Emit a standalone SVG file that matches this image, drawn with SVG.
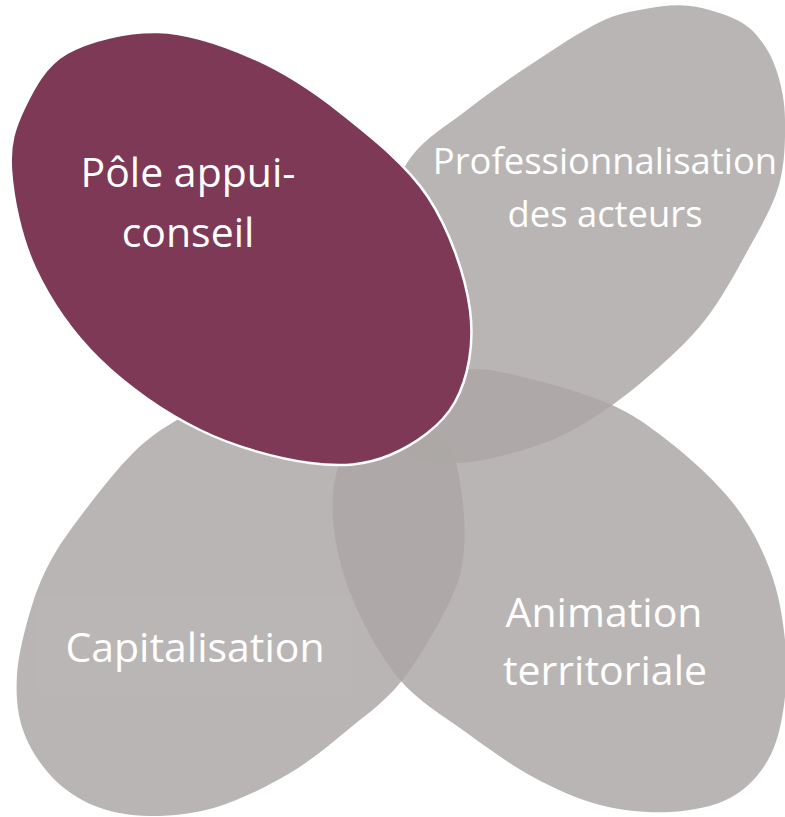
<svg xmlns="http://www.w3.org/2000/svg" width="785" height="817" viewBox="0 0 785 817">
<style>
.petal{fill:#ACA7A6;fill-opacity:0.843;stroke:none}
.lbl{font-family:"Open Sans","Noto Sans","Liberation Sans",sans-serif;fill:#FFFFFF;text-anchor:middle}
.big{font-size:41px}
.small{font-size:36.4px}
</style>
<rect width="785" height="817" fill="#FFFFFF"/>
<g id="node-professionnalisation">
<path class="petal" d="M690,6 C705.3,7.8 725,14 737,20 C749,26 755.2,32.8 762,42 C768.8,51.2 774.2,62 778,75 C781.8,88 784.8,101.7 785,120 C785.2,138.3 785.2,163.3 779,185 C772.8,206.7 760.3,227.5 748,250 C735.7,272.5 721.3,299.2 705,320 C688.7,340.8 669.2,358.3 650,375 C630.8,391.7 609.5,408 590,420 C570.5,432 555.2,439.8 533,447 C510.8,454.2 479.2,462.5 457,463 C434.8,463.5 415.3,463 400,450 C384.7,437 370,416.7 365,385 C360,353.3 363,297 370,260 C377,223 390.8,188 407,163 C423.2,138 446,126.7 467,110 C488,93.3 510.8,77.7 533,63 C555.2,48.3 581.3,31 600,22 C618.7,13 630,11.7 645,9 C660,6.3 674.7,4.2 690,6 Z"/>
<text class="lbl small" x="605" y="174">Professionnalisation</text>
<text class="lbl small" x="605" y="227">des acteurs</text>
</g>
<g id="node-animation">
<path class="petal" d="M490,370 C516.7,374.2 570.5,388.3 600,400 C629.5,411.7 644.8,422.8 667,440 C689.2,457.2 715.8,481.3 733,503 C750.2,524.7 761.3,547.2 770,570 C778.7,592.8 782.7,617.5 785,640 C787.3,662.5 786.8,685 784,705 C781.2,725 777,744.5 768,760 C759,775.5 746.3,789.3 730,798 C713.7,806.7 691.7,810.8 670,812 C648.3,813.2 622.8,810.8 600,805 C577.2,799.2 555.2,789 533,777 C510.8,765 489.2,749.2 467,733 C444.8,716.8 419,702.2 400,680 C381,657.8 364.2,626.7 353,600 C341.8,573.3 334.7,544.2 333,520 C331.3,495.8 333.5,475.7 343,455 C352.5,434.3 373.8,409.3 390,396 C406.2,382.7 423.3,379.3 440,375 C456.7,370.7 466,368 490,370 Z"/>
<text class="lbl big" x="604" y="627">Animation</text>
<text class="lbl big" x="605" y="685">territoriale</text>
</g>
<g id="node-capitalisation">
<path class="petal" d="M300,378 C327.5,380.2 375.3,393.8 400,405 C424.7,416.2 437.5,428.3 448,445 C458.5,461.7 460.7,485 463,505 C465.3,525 465.3,546.7 462,565 C458.7,583.3 453.3,595.3 443,615 C432.7,634.7 415.5,664.2 400,683 C384.5,701.8 368.3,713 350,728 C331.7,743 312.2,759.8 290,773 C267.8,786.2 240.3,799.8 217,807 C193.7,814.2 170.3,816.2 150,816 C129.7,815.8 111.3,812.5 95,806 C78.7,799.5 64,789.7 52,777 C40,764.3 28.8,747 23,730 C17.2,713 15.8,694.7 17,675 C18.2,655.3 24.5,630.8 30,612 C35.5,593.2 41.2,578.5 50,562 C58.8,545.5 69.2,531.2 83,513 C96.8,494.8 117.3,468.5 133,453 C148.7,437.5 160,430.2 177,420 C194,409.8 214.5,399 235,392 C255.5,385 272.5,375.8 300,378 Z"/>
<rect x="38" y="595" width="314" height="100" fill="#BAB6B5"/>
<text class="lbl big" x="195" y="662">Capitalisation</text>
</g>
<g id="node-pole-appui-conseil">
<path fill="#7E3957" stroke="#FFFFFF" stroke-width="2.5" d="M158,32 C189,32.8 222.7,44.7 253,58 C283.3,71.3 310.8,88.8 340,112 C369.2,135.2 406.3,164 428,197 C449.7,230 465.5,275.8 470,310 C474.5,344.2 468.3,377.8 455,402 C441.7,426.2 414.2,444.8 390,455 C365.8,465.2 341.7,467.2 310,463 C278.3,458.8 235,447.2 200,430 C165,412.8 127.5,387 100,360 C72.5,333 49.8,299.7 35,268 C20.2,236.3 12.8,196.7 11,170 C9.2,143.3 14.7,127.5 24,108 C33.3,88.5 44.7,65.7 67,53 C89.3,40.3 127,31.2 158,32 Z"/>
<text class="lbl big" x="188" y="187">Pôle appui-</text>
<text class="lbl big" x="188" y="247">conseil</text>
</g>
</svg>
